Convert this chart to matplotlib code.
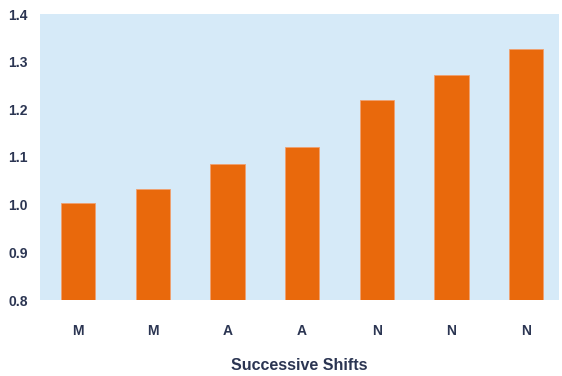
import matplotlib
matplotlib.use("Agg")
import matplotlib.pyplot as plt

# shift sequence and relative values
shifts = ["M", "M", "A", "A", "N", "N", "N"]
values = [1.003, 1.032, 1.085, 1.121, 1.219, 1.272, 1.326]
y_ticks = [0.8, 0.9, 1.0, 1.1, 1.2, 1.3, 1.4]

text_color = "#2b3552"
plt.rcParams["font.family"] = ["Liberation Sans", "DejaVu Sans"]

fig = plt.figure(figsize=(5.62, 3.76), dpi=100)
ax = fig.add_axes([40 / 562, 1 - 300 / 376, 519 / 562, 286 / 376])
ax.set_facecolor("#d6eaf8")

x = range(len(shifts))
# bars start from 0.8, so heights are measured from that base
ax.bar(x, [v - 0.8 for v in values], width=0.46, bottom=0.8,
       color="#e9690c", edgecolor="#f0a070", linewidth=0.6)

ax.set_xlim(-0.51, 6.44)
ax.set_ylim(0.8, 1.4)
ax.set_yticks(y_ticks)
ax.set_yticklabels([f"{t:.1f}" for t in y_ticks], fontsize=10,
                   fontweight="bold", color=text_color)
ax.set_xticks(list(x))
ax.set_xticklabels(shifts, fontsize=10, fontweight="bold", color=text_color)
ax.tick_params(axis="both", length=0)
ax.tick_params(axis="y", pad=9)
ax.tick_params(axis="x", pad=17)
for s in ax.spines.values():
    s.set_visible(False)

ax.set_xlabel("Successive Shifts", fontsize=11.5, fontweight="bold",
              color=text_color, labelpad=15)

fig.savefig("out.png", dpi=100)
